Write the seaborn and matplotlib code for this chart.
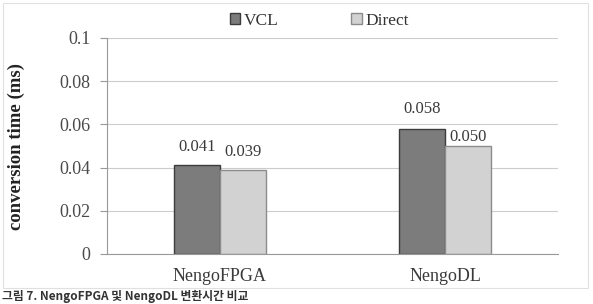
import matplotlib.pyplot as plt
import matplotlib.patches as mpatches
import seaborn as sns
import pandas as pd

# --- data ---
platforms = ['NengoFPGA', 'NengoDL']
vcl_times = [0.041, 0.058]
direct_times = [0.039, 0.050]
series_names = ['VCL', 'Direct']
bar_colors = ['#7c7c7c', '#d2d2d2']
edge_colors = ['#3c3c3c', '#8c8c8c']
y_ticks = [0, 0.02, 0.04, 0.06, 0.08, 0.1]
y_tick_labels = ['0', '0.02', '0.04', '0.06', '0.08', '0.1']
caption = '그림 7. NengoFPGA 및 NengoDL 변환시간 비교'

df = pd.DataFrame({
    'Platform': platforms * 2,
    'Method': [series_names[0]] * 2 + [series_names[1]] * 2,
    'Time': vcl_times + direct_times,
})

sns.set_style('white')
plt.rcParams['font.family'] = ['Liberation Serif', 'DejaVu Serif']

W, H = 593, 304
fig = plt.figure(figsize=(W / 100, H / 100), dpi=100)
ax = fig.add_axes([107 / W, 1 - 254 / H, (558 - 107) / W, (254 - 38) / H])

sns.barplot(data=df, x='Platform', y='Time', hue='Method',
            palette=bar_colors, width=0.41, ax=ax, legend=False)

# Excel placed the labels a little unevenly
label_pads = [[7.8, 8.4], [7, 0.5]]
for i, cont in enumerate(ax.containers):
    for j, bar in enumerate(cont):
        bar.set_edgecolor(edge_colors[i])
        bar.set_linewidth(1.0)
        ax.bar_label(cont, labels=[f'{b.get_height():.3f}' if k == j else ''
                                   for k, b in enumerate(cont)],
                     padding=label_pads[i][j], fontsize=12, color='#3a3a3a')

ax.set_ylim(0, 0.1)
ax.set_yticks(y_ticks)
ax.set_yticklabels(y_tick_labels, fontsize=13, color='#4a4a4a')
ax.tick_params(axis='x', labelsize=13, colors='#3a3a3a', length=0, pad=10)
ax.tick_params(axis='y', length=5, width=0.8, color='#999999', pad=7, left=True)
ax.grid(axis='y', color='#cccccc', linewidth=0.8)
ax.set_axisbelow(True)
for side in ['top', 'right']:
    ax.spines[side].set_visible(False)
ax.spines['left'].set_color('#999999')
ax.spines['bottom'].set_color('#999999')
ax.set_xlabel('')
ax.set_ylabel('conversion time (ms)', fontsize=13.5, fontweight='bold', color='#222222')
ax.yaxis.set_label_coords((25 - 107) / 451, 0.5)

handles = [mpatches.Patch(facecolor=bar_colors[i], edgecolor=edge_colors[i], label=series_names[i])
           for i in range(2)]
fig.legend(handles=handles, loc='center', bbox_to_anchor=(319 / W, 1 - 21 / H), ncol=2,
           frameon=False, fontsize=12.5, handlelength=0.6, handleheight=0.6,
           handletextpad=0.2, columnspacing=4.2, labelcolor='#333333')

# outer chart frame
fig.add_artist(mpatches.Rectangle((3 / W, 1 - 288 / H), 585 / W, 285 / H,
                                  transform=fig.transFigure, fill=False,
                                  edgecolor='#e0e0e0', linewidth=0.8))

# caption under the chart frame
fig.text(2 / W, 1 - 303 / H, caption, fontsize=8.5, fontweight='bold', va='bottom',
         family=['Noto Sans CJK KR', 'DejaVu Sans'], color='#333333')

fig.savefig('out.png', dpi=100)
